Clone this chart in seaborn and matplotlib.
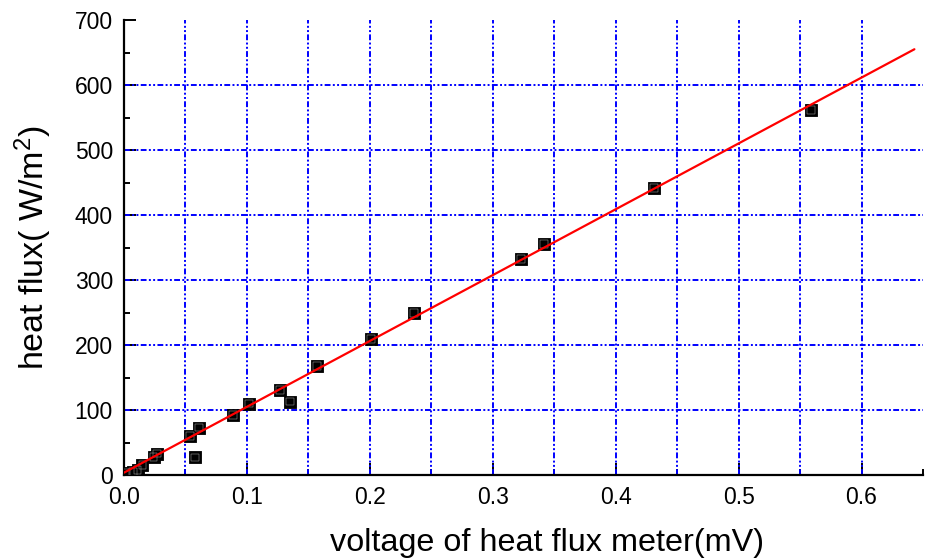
import numpy as np
import pandas as pd
import matplotlib
matplotlib.use("Agg")
import matplotlib.pyplot as plt
from matplotlib.ticker import MultipleLocator, FormatStrFormatter
import seaborn as sns

# Calibration measurements: heat flux meter voltage (mV) vs. heat flux (W/m^2)
voltage_mv = [0.002, 0.007, 0.011, 0.015, 0.024, 0.027, 0.054, 0.058, 0.061,
              0.089, 0.102, 0.127, 0.135, 0.157, 0.201, 0.236, 0.323, 0.342,
              0.431, 0.559]
heat_flux = [3, 4, 8, 15, 28, 33, 60, 27, 73, 92, 110, 131, 113, 168, 209,
             249, 332, 356, 442, 562]

# Linear calibration fit, end points
fit_voltage = [0.0, 0.643]
fit_flux = [3.6, 655.0]

x_ticks = [0.0, 0.1, 0.2, 0.3, 0.4, 0.5, 0.6]
y_ticks = [0, 100, 200, 300, 400, 500, 600, 700]

sns.set_style("ticks")
plt.rcParams["font.family"] = ["Liberation Sans", "DejaVu Sans"]
plt.rcParams["mathtext.default"] = "regular"
plt.rcParams["text.color"] = "black"
plt.rcParams["axes.labelcolor"] = "black"
plt.rcParams["xtick.color"] = "black"
plt.rcParams["ytick.color"] = "black"

df = pd.DataFrame({"voltage": voltage_mv, "flux": heat_flux})
fit = pd.DataFrame({"voltage": fit_voltage, "flux": fit_flux})

fig = plt.figure(figsize=(9.26, 5.58), dpi=100)
ax = fig.add_axes([124 / 926, 83 / 558, 799 / 926, 455 / 558])

# dash-dot-dot blue grid
grid_style = dict(color="#0000ff", lw=1.4, ls=(0, (3.0, 1.2, 1, 1.2, 1, 1.2)), zorder=1)
for gx in np.arange(0.05, 0.6001, 0.05):
    ax.axvline(gx, **grid_style)
for gy in range(100, 700, 100):
    ax.axhline(gy, **grid_style)

sns.scatterplot(data=df, x="voltage", y="flux", ax=ax, marker="s", s=68,
                color="black", edgecolor="black", linewidth=0.6, zorder=3,
                legend=False)
sns.scatterplot(data=df, x="voltage", y="flux", ax=ax, marker="s", s=32,
                facecolor="none", edgecolor="#b0b0b0", linewidth=0.35, zorder=4,
                legend=False)
sns.lineplot(data=fit, x="voltage", y="flux", ax=ax, color="red", lw=1.6,
             zorder=5, legend=False)

ax.set_xlim(0, 0.65)
ax.set_ylim(0, 700)
ax.set_xticks(x_ticks)
ax.set_yticks(y_ticks)
ax.xaxis.set_major_formatter(FormatStrFormatter("%.1f"))
ax.xaxis.set_minor_locator(MultipleLocator(0.05))
ax.yaxis.set_minor_locator(MultipleLocator(50))
ax.tick_params(which="major", direction="in", length=8.5, width=1.4,
               labelsize=16.5, pad=8, color="black", labelcolor="black")
ax.tick_params(which="minor", direction="in", length=4.5, width=1.4,
               color="black")

for side in ("top", "right"):
    ax.spines[side].set_visible(False)
for side in ("left", "bottom"):
    ax.spines[side].set_linewidth(1.6)
    ax.spines[side].set_color("black")

ax.set_xlabel("voltage of heat flux meter(mV)", fontsize=23.3, color="black")
ax.set_ylabel("heat flux( W/m$^2$)", fontsize=24.5, color="black")
ax.xaxis.set_label_coords(0.529, -0.117)
ax.yaxis.set_label_coords(-0.088, 0.5)

fig.savefig("out.png", dpi=100, facecolor="white")
